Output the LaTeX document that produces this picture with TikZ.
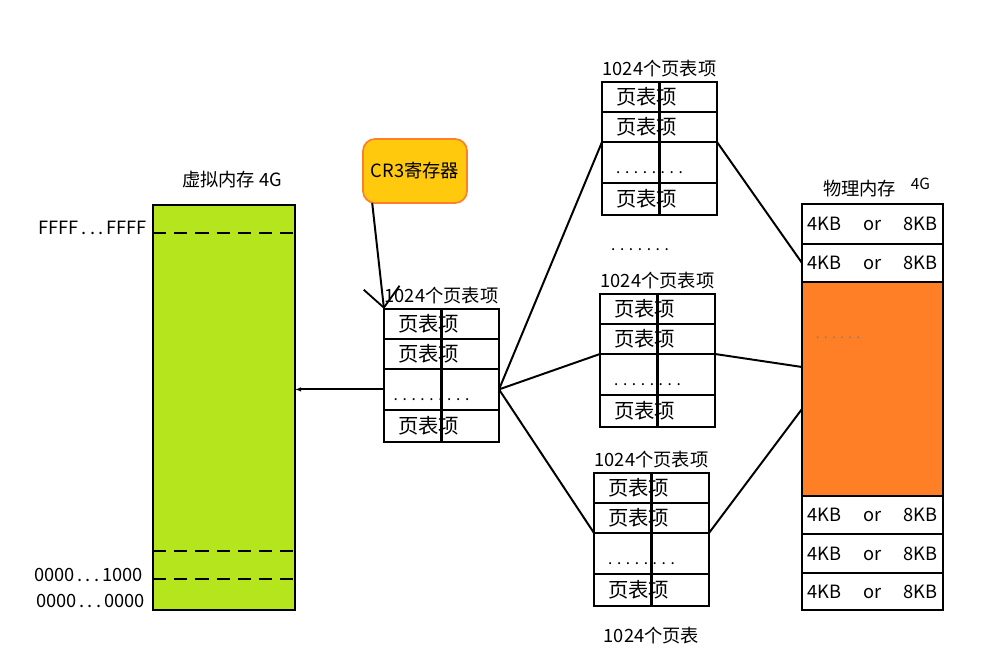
\documentclass[tikz,border=0pt]{standalone}
\usepackage{fontspec}
\setmainfont{Noto Sans CJK SC}
\usetikzlibrary{positioning,arrows.meta}
\definecolor{vmgreen}{HTML}{B5E61D}
\definecolor{pmorange}{HTML}{FF7F27}
\definecolor{cryellow}{HTML}{FFC90E}

\begin{document}
\begin{tikzpicture}[
    font=\fontsize{13}{15}\selectfont,
    box/.style={draw, line width=1.8pt, outer sep=0pt},
    pte/.style={box, font=\fontsize{14.5}{16}\selectfont, text width=2.175cm, inner xsep=3.5mm, inner ysep=0pt, minimum height=0.75cm, align=left},
    ptedots/.style={pte, minimum height=1.02cm},
    ptelast/.style={pte, minimum height=0.8cm},
    page/.style={box, fill=white, minimum width=3.525cm, inner sep=0pt, align=center},
    dots/.style={font=\fontsize{11}{13}\selectfont, inner sep=0pt},
    addr/.style={font=\fontsize{13}{15}\selectfont, anchor=east, inner sep=0pt},
    link/.style={line width=1.4pt},
    dashline/.style={line width=1.4pt, dash pattern=on 3.3mm off 2mm}
]
    \useasboundingbox (0,0) rectangle (24.8,16.45);

    % Virtual memory
    \node[box, fill=vmgreen, anchor=north west, minimum width=3.55cm, minimum height=10.125cm] (virt) at (3.825,11.325) {};
    \node[above=3mm of virt, xshift=2mm] (vmlabel) {虚拟内存 4G};
    \draw[dashline] ([yshift=-7mm]virt.north west) -- ([yshift=-7mm]virt.north east);
    \draw[dashline] ([yshift=14.75mm]virt.south west) -- ([yshift=14.75mm]virt.south east);
    \draw[dashline] ([yshift=7.75mm]virt.south west) -- ([yshift=7.75mm]virt.south east);
    \node[addr] (ffff) at ([xshift=-1.5mm,yshift=-5.8mm]virt.north west) {FFFF\,.\,.\,.\,FFFF};
    \node[addr] (a1000) at ([xshift=-2.5mm,yshift=8.75mm]virt.south west) {0000\,.\,.\,.\,1000};
    \node[addr] (a0000) at ([xshift=-2mm,yshift=2.25mm]virt.south west) {0000\,.\,.\,.\,0000};

    % CR3
    \node[box, draw=pmorange, fill=cryellow, rounded corners=3mm, line width=1.2pt, minimum width=2.6cm, minimum height=1.6cm] (cr3) at (10.375,12.175) {CR3寄存器};

    % Page directory
    \node[pte, anchor=north west] (dir1) at (9.6,8.725) {页表项};
    \node[pte, below=0pt of dir1] (dir2) {页表项};
    \node[ptedots, below=0pt of dir2] (dir3) {};
    \node[ptelast, below=0pt of dir3] (dir4) {页表项};
    \draw[box] (dir1.north) -- (dir4.south);
    \node[dots] at ([xshift=-2.5mm,yshift=2.5mm]dir3.south) {. . . . . . . . .};
    \node[above=0pt of dir1] (dirlabel) {1024个页表项};

    % Page tables
    \node[pte, anchor=north west] (top1) at (15.05,14.4) {页表项};
    \node[pte, below=0pt of top1] (top2) {页表项};
    \node[ptedots, below=0pt of top2] (top3) {};
    \node[ptelast, below=0pt of top3] (top4) {页表项};
    \draw[box] (top1.north) -- (top4.south);
    \node[dots] at ([xshift=-2.5mm,yshift=2.5mm]top3.south) {. . . . . . . .};
    \node[above=0pt of top1] (toplabel) {1024个页表项};

    \node[dots] (gap) at (16.0,10.2) {. . . . . . .};

    \node[pte, anchor=north west] (mid1) at (15.0,9.1) {页表项};
    \node[pte, below=0pt of mid1] (mid2) {页表项};
    \node[ptedots, below=0pt of mid2] (mid3) {};
    \node[ptelast, below=0pt of mid3] (mid4) {页表项};
    \draw[box] (mid1.north) -- (mid4.south);
    \node[dots] at ([xshift=-2.5mm,yshift=2.5mm]mid3.south) {. . . . . . . .};
    \node[above=0pt of mid1] (midlabel) {1024个页表项};

    \node[pte, anchor=north west] (bot1) at (14.85,4.625) {页表项};
    \node[pte, below=0pt of bot1] (bot2) {页表项};
    \node[ptedots, below=0pt of bot2] (bot3) {};
    \node[ptelast, below=0pt of bot3] (bot4) {页表项};
    \draw[box] (bot1.north) -- (bot4.south);
    \node[dots] at ([xshift=-2.5mm,yshift=2.5mm]bot3.south) {. . . . . . . .};
    \node[above=0pt of bot1] (botlabel) {1024个页表项};
    \node[below=4mm of bot4] (tables) {1024个页表};

    % Physical memory
    \node[page, anchor=north west, minimum height=1.0cm] (ph1) at (20.05,11.35) {4KB\hspace{1.2em}or\hspace{1.2em}8KB};
    \node[page, below=0pt of ph1, minimum height=0.95cm] (ph2) {4KB\hspace{1.2em}or\hspace{1.2em}8KB};
    \node[page, below=0pt of ph2, fill=pmorange, minimum height=5.35cm] (ph3) {};
    \node[page, below=0pt of ph3, minimum height=0.95cm] (ph4) {4KB\hspace{1.2em}or\hspace{1.2em}8KB};
    \node[page, below=0pt of ph4, minimum height=0.975cm] (ph5) {4KB\hspace{1.2em}or\hspace{1.2em}8KB};
    \node[page, below=0pt of ph5, minimum height=0.925cm] (ph6) {4KB\hspace{1.2em}or\hspace{1.2em}8KB};
    \node[dots, text=gray, font=\fontsize{10}{12}\selectfont] at ([xshift=9mm,yshift=-14mm]ph3.north west) {. . . . . .};
    \node[above=0.5mm of ph1, xshift=1mm] (pmlabel) {物理内存\hspace{0.8em}\raisebox{0.6ex}{\fontsize{11}{13}\selectfont 4G}};

    % Arrows
    \draw[link, -{Straight Barb[length=5mm,width=9mm,line width=1.3pt]}] ([xshift=2.3mm]cr3.south west) -- (dir1.north west);
    \draw[link, -{Latex[length=1.5mm]}] (dir3.west) -- (virt.east |- dir3.west);

    \draw[link] (dir3.east) -- (top2.south west);
    \draw[link] (dir3.east) -- (mid3.north west);
    \draw[link] (dir3.east) -- (bot2.south west);

    \draw[link] (top2.south east) -- (ph2.west);
    \draw[link] (mid3.north east) -- ([yshift=5.5mm]ph3.west);
    \draw[link] (bot2.south east) -- ([yshift=-5mm]ph3.west);

\end{tikzpicture}
\end{document}
